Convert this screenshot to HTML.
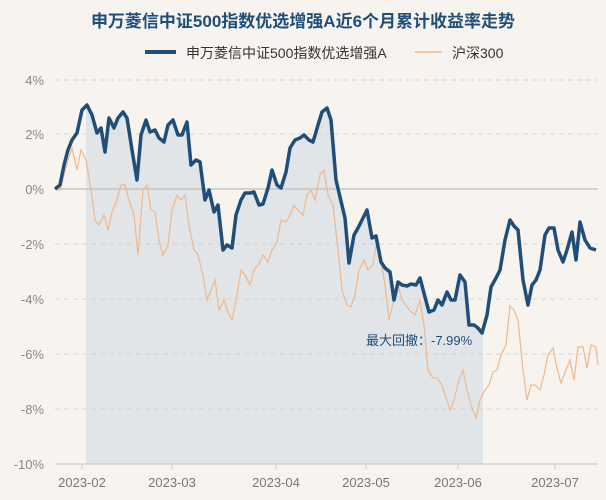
<!DOCTYPE html>
<html><head><meta charset="utf-8"><style>
html,body{margin:0;padding:0;background:#f7f4f0;}
svg{display:block;font-family:"Liberation Sans","Noto Sans CJK SC",sans-serif;}
</style></head><body>
<svg width="606" height="500" viewBox="0 0 606 500">
<rect width="606" height="500" fill="#f7f4f0"/>
<text x="303" y="27" text-anchor="middle" font-size="17" font-weight="bold" fill="#1f4e79">申万菱信中证500指数优选增强A近6个月累计收益率走势</text>
<line x1="145" y1="52" x2="176" y2="52" stroke="#1f4e79" stroke-width="4"/>
<text x="186" y="58" font-size="14" fill="#333">申万菱信中证500指数优选增强A</text>
<line x1="415" y1="52" x2="442" y2="52" stroke="#f0b88a" stroke-width="1.5"/>
<text x="452" y="58" font-size="14" fill="#333">沪深300</text>
<polygon fill="#e1e5e8" points="86,464 86,106 87,105 92,115 97,133 101,128 105,152 109,118 114,128 118,118 123,112 127,118 132,150 137,180 141,135 146,120 150,132 155,130 159,138 164,142 168,125 173,120 178,135 182,135 187,122 191,165 196,160 200,162 205,200 209,190 214,212 218,205 223,250 227,245 232,248 236,215 241,200 245,193 250,193 254,192 259,205 263,204 268,188 272,170 277,185 281,188 286,172 290,148 295,140 300,138 304,135 309,140 313,142 318,125 322,112 327,108 331,120 336,180 340,197 345,218 349,263 354,235 358,228 363,218 367,210 372,238 376,236 381,262 385,268 390,272 394,300 398,282 402,285 407,286 411,284 416,285 420,278 425,297 429,312 434,310 438,300 442,305 447,292 451,300 455,300 460,275 465,282 469,325 474,325 478,328 482,333 483,330 483,464"/>
<g stroke="#d8d4cf" stroke-dasharray="5,4" stroke-width="1">
<line x1="55" y1="80" x2="598" y2="80"/><line x1="55" y1="134" x2="598" y2="134"/>
<line x1="55" y1="244" x2="598" y2="244"/><line x1="55" y1="299" x2="598" y2="299"/>
<line x1="55" y1="354" x2="598" y2="354"/><line x1="55" y1="409" x2="598" y2="409"/>
</g>
<line x1="55" y1="189" x2="598" y2="189" stroke="#c8c4bf" stroke-width="1.5"/>
<line x1="55" y1="464" x2="598" y2="464" stroke="#c8c4bf" stroke-width="1"/>
<g font-size="13" fill="#888" text-anchor="end">
<text x="44" y="85">4%</text><text x="44" y="139">2%</text><text x="44" y="194">0%</text>
<text x="44" y="249">-2%</text><text x="44" y="304">-4%</text><text x="44" y="359">-6%</text>
<text x="44" y="414">-8%</text><text x="44" y="469">-10%</text>
</g>
<g font-size="13" fill="#777" text-anchor="middle">
<text x="82" y="487">2023-02</text><text x="172" y="487">2023-03</text><text x="276" y="487">2023-04</text>
<text x="366" y="487">2023-05</text><text x="458" y="487">2023-06</text><text x="555" y="487">2023-07</text>
</g>
<g stroke="#c8c4bf"><line x1="82" y1="464" x2="82" y2="469"/><line x1="172" y1="464" x2="172" y2="469"/><line x1="276" y1="464" x2="276" y2="469"/><line x1="366" y1="464" x2="366" y2="469"/><line x1="458" y1="464" x2="458" y2="469"/><line x1="555" y1="464" x2="555" y2="469"/></g>
<polyline fill="none" stroke="#f0b88a" stroke-width="1.2" points="55,189 60,190 64,175 68,160 72,148 77,170 81,150 86,160 91,190 95,220 99,225 104,215 108,230 112,212 117,200 121,185 125,185 129,200 134,215 138,255 143,190 147,185 151,210 155,212 159,240 163,255 168,245 172,210 177,195 181,200 185,195 189,225 194,250 198,255 203,275 207,300 211,290 215,280 219,310 224,300 228,312 232,320 237,295 241,270 245,275 250,285 254,270 258,265 263,255 268,262 272,250 277,242 281,220 286,222 290,215 294,205 298,210 303,215 307,195 311,190 315,200 320,175 324,170 328,195 333,205 338,250 342,290 347,305 351,307 355,295 359,270 364,260 368,270 373,265 377,240 381,262 385,285 389,320 394,300 398,285 402,300 407,307 411,312 415,315 420,300 424,325 428,370 433,378 437,378 442,385 446,398 450,410 454,400 459,380 463,370 467,390 471,405 476,418 480,400 485,390 489,385 493,372 497,370 501,355 506,345 510,306 514,310 518,320 523,370 527,400 531,385 535,385 540,390 544,375 548,355 553,348 557,368 561,383 566,370 570,360 574,380 578,347 583,347 587,368 591,345 596,347 598,365"/>
<polyline fill="none" stroke="#1f4e79" stroke-width="3.5" stroke-linejoin="round" points="55,189 60,185 64,165 68,150 72,140 77,133 82,110 87,105 92,115 97,133 101,128 105,152 109,118 114,128 118,118 123,112 127,118 132,150 137,180 141,135 146,120 150,132 155,130 159,138 164,142 168,125 173,120 178,135 182,135 187,122 191,165 196,160 200,162 205,200 209,190 214,212 218,205 223,250 227,245 232,248 236,215 241,200 245,193 250,193 254,192 259,205 263,204 268,188 272,170 277,185 281,188 286,172 290,148 295,140 300,138 304,135 309,140 313,142 318,125 322,112 327,108 331,120 336,180 340,197 345,218 349,263 354,235 358,228 363,218 367,210 372,238 376,236 381,262 385,268 390,272 394,300 398,282 402,285 407,286 411,284 416,285 420,278 425,297 429,312 434,310 438,300 442,305 447,292 451,300 455,300 460,275 465,282 469,325 474,325 478,328 482,333 487,315 491,287 496,278 500,270 505,240 510,220 514,226 518,230 523,280 528,305 532,285 536,280 540,270 545,235 549,228 554,228 558,250 563,262 567,250 572,232 576,260 580,222 585,240 590,248 596,250"/>
<text x="366" y="345" font-size="13" fill="#1f4e79">最大回撤：-7.99%</text>
</svg>
</body></html>
